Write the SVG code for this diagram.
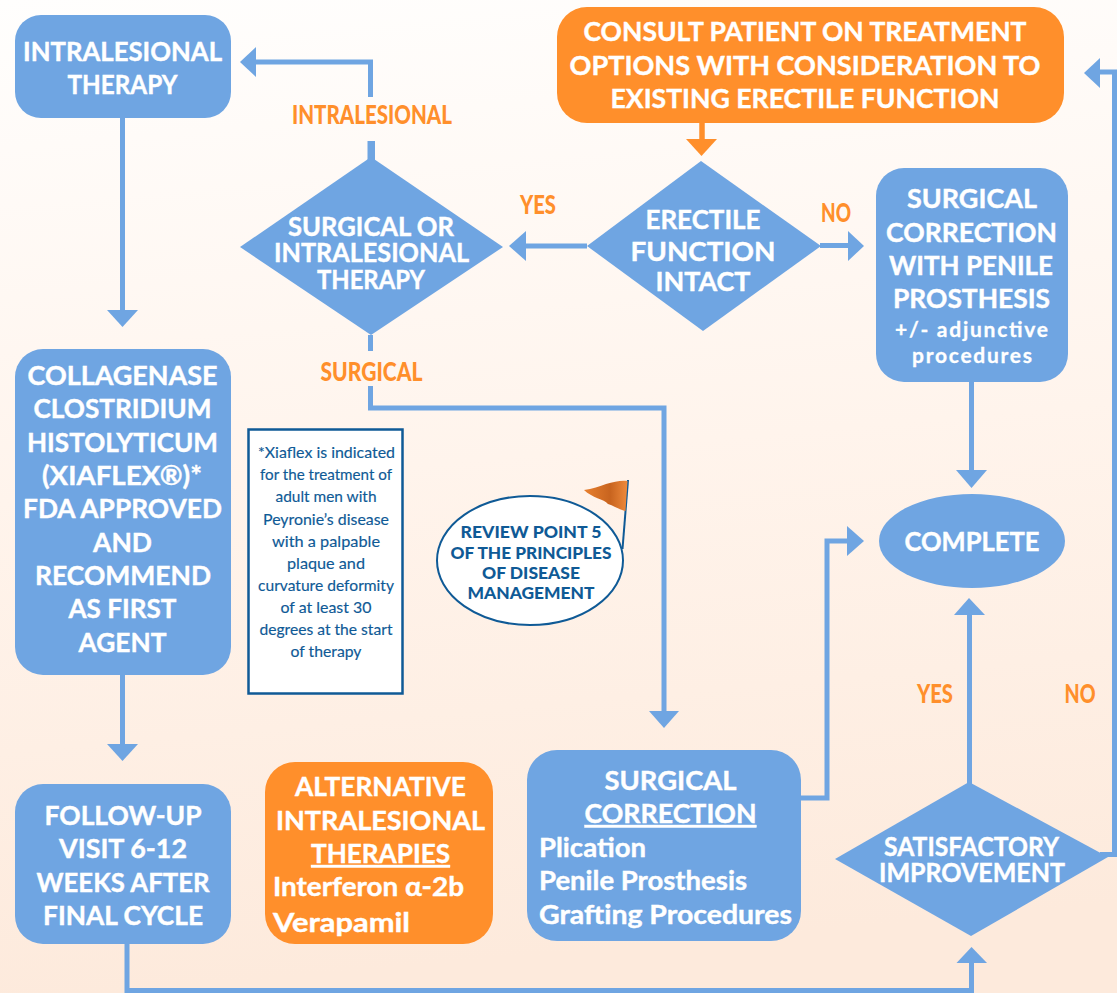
<svg xmlns="http://www.w3.org/2000/svg" width="1117" height="993" viewBox="0 0 1117 993">
<defs>
<linearGradient id="bg" x1="0" y1="0" x2="0.1" y2="1"><stop offset="0" stop-color="#fffefd"/><stop offset="0.5" stop-color="#fff4ec"/><stop offset="1" stop-color="#fdeadc"/></linearGradient>
<linearGradient id="fl" x1="0" y1="0" x2="1" y2="0"><stop offset="0" stop-color="#e8802f"/><stop offset="0.6" stop-color="#c8641f"/><stop offset="1" stop-color="#ee8a3c"/></linearGradient>
</defs>
<style>
.b{fill:#6fa5e2}.o{fill:#ff8f2b}
.c{fill:none;stroke:#6fa5e2;stroke-width:5}
.h{fill:#6fa5e2}
text{font-family:"Lato","Liberation Sans",sans-serif;font-weight:700;text-anchor:middle}
.w{fill:#fff;font-size:26px;stroke:#fff;stroke-width:.4}
.s{fill:#fff;font-size:21px;stroke:#fff;stroke-width:.3}
.l{fill:#ff8f2b;font-size:27px;font-weight:900}
.n{fill:#0f5a96;font-size:15px;font-weight:400;stroke:#0f5a96;stroke-width:.15}
.r{fill:#0f5a96;font-size:16.500px;font-weight:900}
.st{text-anchor:start}
</style>
<rect width="1117" height="993" fill="url(#bg)"/>
<g id="connectors">
<path class="c" d="M122.500 118V310"/><path class="h" d="M107 310H138L122.500 327Z"/>
<path class="c" d="M122.500 675V745"/><path class="h" d="M107 744H138L122.500 761Z"/>
<path class="c" d="M127 944V990.500H971.500V962"/><path class="h" d="M956.500 963H987L971.500 947Z"/>
<path class="c" d="M370.500 97V62H255"/><path class="h" d="M367.500 141H375V160H367.500Z"/><path class="h" d="M256 47V77L240 62Z"/>
<path class="c" d="M587 246H525"/><path class="h" d="M526 231V261L509 246Z"/>
<path class="c" d="M820 245.500H849"/><path class="h" d="M848 231V261L864 246Z"/>
<path d="M702 123V141" fill="none" stroke="#ff8f2b" stroke-width="5.500"/><path class="o" d="M686 139H717L701.500 156Z"/>
<path class="c" d="M971.500 382V471"/><path class="h" d="M956 470H987L971.500 488Z"/>
<path class="c" d="M370.500 335V351M370.500 386V408H664V712"/><path class="h" d="M649 711H679L664 728Z"/>
<path class="c" d="M801 798H827V541H848"/><path class="h" d="M847 526V556L864 541Z"/>
<path class="c" d="M969.500 784V614"/><path class="h" d="M954 615H985L969 598Z"/>
<path class="c" d="M1100 854.500H1114.500V72H1099"/><path class="h" d="M1100 58V88L1084 73Z"/>
</g>
<g id="node-intralesional"><rect class="b" x="15" y="15" width="216" height="103" rx="26"/>
<text class="w" x="122.500" y="61" textLength="199" lengthAdjust="spacingAndGlyphs">INTRALESIONAL</text><text class="w" x="122.500" y="94" textLength="110" lengthAdjust="spacingAndGlyphs">THERAPY</text></g>
<g id="node-consult"><rect class="o" x="557" y="7" width="507" height="116" rx="30"/>
<text class="w" x="805" y="41" textLength="443" lengthAdjust="spacingAndGlyphs">CONSULT PATIENT ON TREATMENT</text><text class="w" x="805" y="75" textLength="471" lengthAdjust="spacingAndGlyphs">OPTIONS WITH CONSIDERATION TO</text><text class="w" x="805" y="108" textLength="389" lengthAdjust="spacingAndGlyphs">EXISTING ERECTILE FUNCTION</text></g>
<g id="node-surg-or-intra"><path class="b" d="M371 157L503 247L371 335L240 247Z"/>
<text class="w" x="371" y="236" textLength="166" lengthAdjust="spacingAndGlyphs">SURGICAL OR</text><text class="w" x="371.500" y="262" textLength="195" lengthAdjust="spacingAndGlyphs">INTRALESIONAL</text><text class="w" x="371" y="289" textLength="108" lengthAdjust="spacingAndGlyphs">THERAPY</text></g>
<g id="node-erectile"><path class="b" d="M701 161L821 246L703 331L587 246Z"/>
<text class="w" x="703" y="229" textLength="115" lengthAdjust="spacingAndGlyphs">ERECTILE</text><text class="w" x="703" y="261" textLength="145" lengthAdjust="spacingAndGlyphs">FUNCTION</text><text class="w" x="703" y="291" textLength="95" lengthAdjust="spacingAndGlyphs">INTACT</text></g>
<g id="node-prosthesis"><rect class="b" x="876" y="168" width="192" height="214" rx="28"/>
<text class="w" x="972" y="208" textLength="130" lengthAdjust="spacingAndGlyphs">SURGICAL</text><text class="w" x="971.500" y="242" textLength="171" lengthAdjust="spacingAndGlyphs">CORRECTION</text><text class="w" x="971" y="275" textLength="164" lengthAdjust="spacingAndGlyphs">WITH PENILE</text><text class="w" x="971.500" y="308" textLength="157" lengthAdjust="spacingAndGlyphs">PROSTHESIS</text>
<text class="s" x="971.500" y="337" textLength="153" lengthAdjust="spacing">+/- adjunctive</text><text class="s" x="972" y="363" textLength="120" lengthAdjust="spacing">procedures</text></g>
<g id="node-collagenase"><rect class="b" x="15" y="349" width="216" height="326" rx="28"/>
<text class="w" x="122.500" y="385" textLength="190" lengthAdjust="spacingAndGlyphs">COLLAGENASE</text><text class="w" x="122.500" y="418" textLength="178" lengthAdjust="spacingAndGlyphs">CLOSTRIDIUM</text><text class="w" x="122.500" y="452" textLength="191" lengthAdjust="spacingAndGlyphs">HISTOLYTICUM</text><text class="w" x="122" y="485" textLength="160" lengthAdjust="spacingAndGlyphs">(XIAFLEX®)*</text><text class="w" x="122.500" y="518" textLength="199" lengthAdjust="spacingAndGlyphs">FDA APPROVED</text><text class="w" x="122.500" y="552" textLength="59" lengthAdjust="spacingAndGlyphs">AND</text><text class="w" x="123" y="585" textLength="176" lengthAdjust="spacingAndGlyphs">RECOMMEND</text><text class="w" x="122.500" y="618" textLength="108" lengthAdjust="spacingAndGlyphs">AS FIRST</text><text class="w" x="122.500" y="652" textLength="88" lengthAdjust="spacingAndGlyphs">AGENT</text></g>
<g id="node-note"><rect x="248.500" y="429.500" width="154" height="264" fill="#fff" stroke="#0f5a96" stroke-width="2.500"/>
<text class="n" x="326.500" y="458" textLength="137" lengthAdjust="spacingAndGlyphs">*Xiaflex is indicated</text><text class="n" x="326" y="480" textLength="132" lengthAdjust="spacingAndGlyphs">for the treatment of</text><text class="n" x="326" y="502" textLength="101" lengthAdjust="spacingAndGlyphs">adult men with</text><text class="n" x="326" y="525" textLength="126" lengthAdjust="spacingAndGlyphs">Peyronie’s disease</text><text class="n" x="326" y="547" textLength="108" lengthAdjust="spacingAndGlyphs">with a palpable</text><text class="n" x="326" y="569" textLength="78" lengthAdjust="spacingAndGlyphs">plaque and</text><text class="n" x="326" y="591" textLength="136" lengthAdjust="spacingAndGlyphs">curvature deformity</text><text class="n" x="326" y="613" textLength="91" lengthAdjust="spacingAndGlyphs">of at least 30</text><text class="n" x="326" y="635" textLength="133" lengthAdjust="spacingAndGlyphs">degrees at the start</text><text class="n" x="326" y="657" textLength="71" lengthAdjust="spacingAndGlyphs">of therapy</text></g>
<g id="node-review"><path d="M622.500 549L628 480" fill="none" stroke="#0f5a96" stroke-width="2"/><path d="M584 490C592 489 600 486 606 484C614 482 621 480 627.500 481L625.500 511C620 510 614 506 608 504C604 499 592 498 584 490Z" fill="url(#fl)"/>
<ellipse cx="530" cy="560.500" rx="93" ry="64.500" fill="#fff" stroke="#0f5a96" stroke-width="2"/>
<text class="r" x="531" y="538" textLength="141" lengthAdjust="spacingAndGlyphs">REVIEW POINT 5</text><text class="r" x="531" y="559" textLength="161" lengthAdjust="spacingAndGlyphs">OF THE PRINCIPLES</text><text class="r" x="531" y="579" textLength="98" lengthAdjust="spacingAndGlyphs">OF DISEASE</text><text class="r" x="531" y="599" textLength="127" lengthAdjust="spacingAndGlyphs">MANAGEMENT</text></g>
<g id="node-complete"><ellipse class="b" cx="972" cy="541" rx="93" ry="47"/><text class="w" x="972" y="551" textLength="135" lengthAdjust="spacingAndGlyphs">COMPLETE</text></g>
<g id="node-followup"><rect class="b" x="15" y="784" width="216" height="160" rx="28"/>
<text class="w" x="123" y="825" textLength="157" lengthAdjust="spacingAndGlyphs">FOLLOW-UP</text><text class="w" x="123" y="858" textLength="128" lengthAdjust="spacingAndGlyphs">VISIT 6-12</text><text class="w" x="123" y="892" textLength="173" lengthAdjust="spacingAndGlyphs">WEEKS AFTER</text><text class="w" x="123" y="925" textLength="160" lengthAdjust="spacingAndGlyphs">FINAL CYCLE</text></g>
<g id="node-alternative"><rect class="o" x="265" y="762" width="228" height="182" rx="30"/>
<text class="w" x="380.500" y="796" textLength="171" lengthAdjust="spacingAndGlyphs">ALTERNATIVE</text><text class="w" x="380.500" y="830" textLength="209" lengthAdjust="spacingAndGlyphs">INTRALESIONAL</text><text class="w" x="380.500" y="863" textLength="139" lengthAdjust="spacingAndGlyphs" text-decoration="underline">THERAPIES</text><text class="w st" x="273" y="896" textLength="191" lengthAdjust="spacingAndGlyphs">Interferon α-2b</text><text class="w st" x="273" y="932" textLength="137" lengthAdjust="spacingAndGlyphs">Verapamil</text></g>
<g id="node-surgical"><rect class="b" x="527" y="750" width="274" height="191" rx="30"/>
<text class="w" x="670.500" y="790" textLength="132" lengthAdjust="spacingAndGlyphs">SURGICAL</text><text class="w" x="670.500" y="823" textLength="172" lengthAdjust="spacingAndGlyphs" text-decoration="underline">CORRECTION</text><text class="w st" x="539" y="857" textLength="107" lengthAdjust="spacingAndGlyphs">Plication</text><text class="w st" x="539" y="890" textLength="208" lengthAdjust="spacingAndGlyphs">Penile Prosthesis</text><text class="w st" x="539" y="924" textLength="253" lengthAdjust="spacingAndGlyphs">Grafting Procedures</text></g>
<g id="node-satisfactory"><path class="b" d="M969 782L1108 857L971 936L835 859Z"/>
<text class="w" x="971.500" y="856" textLength="175" lengthAdjust="spacingAndGlyphs">SATISFACTORY</text><text class="w" x="972" y="882" textLength="186" lengthAdjust="spacingAndGlyphs">IMPROVEMENT</text></g>
<g id="labels">
<text class="l" x="372" y="124" textLength="160" lengthAdjust="spacingAndGlyphs">INTRALESIONAL</text>
<text class="l" x="371.500" y="381" textLength="102" lengthAdjust="spacingAndGlyphs">SURGICAL</text>
<text class="l" x="538" y="214" textLength="36" lengthAdjust="spacingAndGlyphs">YES</text>
<text class="l" x="836" y="222" textLength="30" lengthAdjust="spacingAndGlyphs">NO</text>
<text class="l" x="935" y="703" textLength="36" lengthAdjust="spacingAndGlyphs">YES</text>
<text class="l" x="1080" y="703" textLength="31" lengthAdjust="spacingAndGlyphs">NO</text>
</g>
</svg>
